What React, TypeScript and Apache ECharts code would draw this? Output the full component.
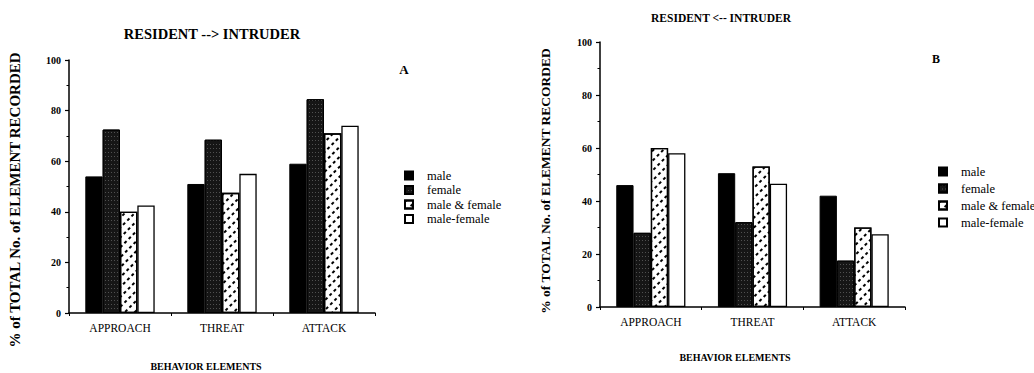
import React, { useEffect, useRef } from "react";
import * as echarts from "echarts";

const categories = ["APPROACH", "THREAT", "ATTACK"];
const seriesNames = ["male", "female", "male & female", "male-female"];
const yTicks = [0, 20, 40, 60, 80, 100];

// Panel A: RESIDENT --> INTRUDER
const aMale = [54, 51, 59];
const aFemale = [72.5, 68.5, 84.5];
const aMaleAndFemale = [40, 47.5, 71];
const aMaleFemale = [42.5, 55, 74];

// Panel B: RESIDENT <-- INTRUDER
const bMale = [46, 50.5, 42];
const bFemale = [28, 32, 17.5];
const bMaleAndFemale = [60, 53, 30];
const bMaleFemale = [58, 46.5, 27.5];

const SERIF = "'Liberation Serif', 'DejaVu Serif', serif";

const styles: any[] = [
  { color: "#000", borderColor: "#000", borderWidth: 1 },
  {
    color: "#161616",
    borderColor: "#000",
    borderWidth: 1,
    decal: {
      symbol: "rect",
      symbolSize: 1,
      color: "#505050",
      backgroundColor: "#161616",
      dashArrayX: [1, 2],
      dashArrayY: [1, 3],
      rotation: 0,
    },
  },
  {
    color: "#fff",
    borderColor: "#000",
    borderWidth: 1.3,
    decal: {
      symbol: "rect",
      symbolSize: 1,
      color: "#000",
      backgroundColor: "#fff",
      dashArrayX: [3, 3],
      dashArrayY: [1.2, 4.3],
      rotation: -Math.PI / 4,
    },
  },
  { color: "#fff", borderColor: "#000", borderWidth: 1.3 },
];

export default function App() {
  const ref = useRef<HTMLDivElement>(null);
  useEffect(() => {
    if (!ref.current) return;
    const chart = echarts.init(ref.current, null, { renderer: "svg" });
    const panelA = [aMale, aFemale, aMaleAndFemale, aMaleFemale];
    const panelB = [bMale, bFemale, bMaleAndFemale, bMaleFemale];

    const mkX = (gi: number) => ({
      type: "category",
      gridIndex: gi,
      data: categories,
      axisLine: { lineStyle: { color: "#000", width: 1.5 } },
      axisTick: { show: true, length: 3, lineStyle: { color: "#000", width: 1 } },
      axisLabel: { color: "#000", fontFamily: SERIF, fontSize: 11.5, margin: 9 },
      splitLine: { show: false },
    });
    const mkY = (gi: number) => ({
      type: "value",
      gridIndex: gi,
      min: 0,
      max: 100,
      interval: 20,
      axisLine: { show: true, lineStyle: { color: "#000", width: 1.5 } },
      axisTick: { show: true, length: 4, lineStyle: { color: "#000", width: 1.2 } },
      minorTick: { show: true, splitNumber: 2, length: 2.5, lineStyle: { color: "#000" } },
      axisLabel: {
        color: "#000",
        fontFamily: SERIF,
        fontSize: 10,
        fontWeight: "bold",
        margin: 8,
        formatter: (v: number) => (yTicks.includes(v) ? String(v) : ""),
      },
      splitLine: { show: false },
    });

    const series: any[] = [];
    [panelA, panelB].forEach((panel, gi) => {
      panel.forEach((vals, i) => {
        series.push({
          type: "bar",
          name: seriesNames[i],
          xAxisIndex: gi,
          yAxisIndex: gi,
          data: vals,
          barGap: "0%",
          barCategoryGap: "32%",
          itemStyle: styles[i],
          emphasis: { disabled: true },
        });
      });
    });

    const legendBase = {
      orient: "vertical",
      itemWidth: 8,
      itemHeight: 8,
      icon: "rect",
      data: seriesNames,
      selectedMode: false,
      textStyle: {
        color: "#000",
        fontFamily: SERIF,
        fontSize: 12.5,
        lineHeight: 10,
        padding: [0, 0, 0, 9],
      },
    };

    const bold = (text: string, x: number, y: number, size: number, rot = 0) => ({
      type: "text",
      x,
      y,
      rotation: rot,
      style: {
        text,
        fill: "#000",
        font: `bold ${size}px ${SERIF}`,
        textAlign: "center",
        textVerticalAlign: "middle",
      },
    });

    chart.setOption({
      animation: false,
      backgroundColor: "#fff",
      grid: [
        { left: 69, top: 60, width: 306, height: 253, containLabel: false },
        { left: 600, top: 42, width: 305, height: 265, containLabel: false },
      ],
      xAxis: [mkX(0), mkX(1)],
      yAxis: [mkY(0), mkY(1)],
      legend: [
        { ...legendBase, left: 399, top: 164, itemGap: 1.5 },
        { ...legendBase, left: 933, top: 160, itemGap: 4 },
      ],
      series,
      graphic: [
        bold("RESIDENT --> INTRUDER", 212, 34, 14.5),
        bold("RESIDENT <-- INTRUDER", 721, 18, 11.5),
        bold("A", 404, 69, 13),
        bold("B", 936, 59, 12),
        bold("% of TOTAL No. of ELEMENT RECORDED", 15, 200, 15, Math.PI / 2),
        bold("% of TOTAL No. of ELEMENT RECORDED", 545, 181, 13.5, Math.PI / 2),
        bold("BEHAVIOR ELEMENTS", 206, 366, 10),
        bold("BEHAVIOR ELEMENTS", 735, 357, 10),
      ],
    });
    return () => chart.dispose();
  }, []);
  return (
    <div
      ref={ref}
      style={{ position: "fixed", left: 0, top: 0, width: 1034, height: 373, background: "#fff" }}
    />
  );
}
